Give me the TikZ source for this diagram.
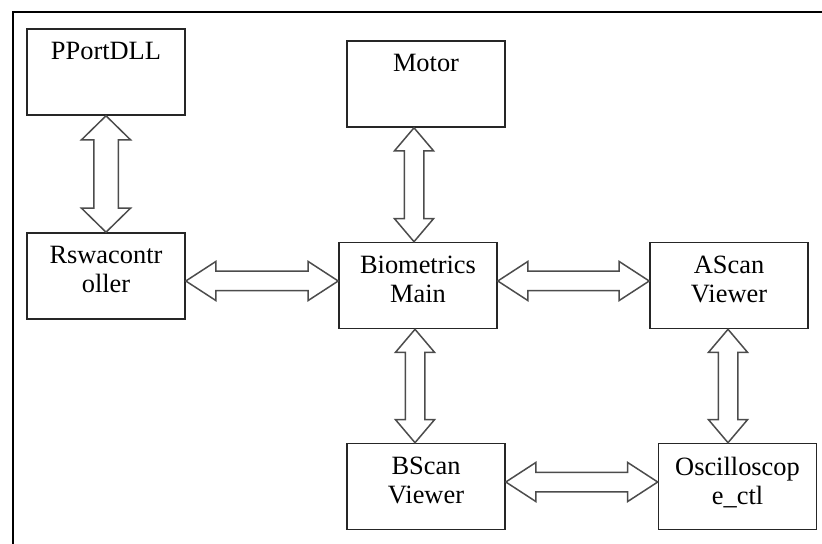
\documentclass[tikz,border=0pt]{standalone}
\usepackage{fontspec}
\setmainfont{Liberation Serif}
\usetikzlibrary{calc}
\tikzset{
  blok/.style={draw=black!85, line width=0.8pt, minimum width=79pt, minimum height=43pt, inner sep=0pt},
  blabel/.style={anchor=north, align=center, inner ysep=7pt},
  blokarr/.style={draw=black!70, line width=0.75pt, fill=white, line join=miter},
}
% double block arrow: #1 head length, #2 head half width, #3 from, #4 to
\newcommand{\dblarr}[4]{%
  \draw[blokarr] (#3)
    -- ($(#3)!#1!(#4)!#2!90:(#4)$)
    -- ($(#3)!#1!(#4)!0.5*#2!90:(#4)$)
    -- ($(#4)!#1!(#3)!0.5*#2!-90:(#3)$)
    -- ($(#4)!#1!(#3)!#2!-90:(#3)$)
    -- (#4)
    -- ($(#4)!#1!(#3)!#2!90:(#3)$)
    -- ($(#4)!#1!(#3)!0.5*#2!90:(#3)$)
    -- ($(#3)!#1!(#4)!0.5*#2!-90:(#4)$)
    -- ($(#3)!#1!(#4)!#2!-90:(#4)$)
    -- cycle;}
\begin{document}
\begin{tikzpicture}[x=0.5pt, y=-0.5pt, font=\fontsize{13.2}{14.5}\selectfont]
\useasboundingbox (0,0) rectangle (822,544);
% cadre
\draw[line width=1.3pt] (13,560) |- (840,12);
% blocs
\node[blok, label={[blabel]north:PPortDLL}] (pport) at (106,72) {};
\node[blok, label={[blabel]north:Rswacontr\\oller}] (rswa) at (106,276) {};
\node[blok, label={[blabel]north:Motor}] (motor) at (426,84) {};
\node[blok, label={[blabel]north:Biometrics\\Main}] (bio) at (418,285.5) {};
\node[blok, label={[blabel]north:AScan\\Viewer}] (ascan) at (729,285.5) {};
\node[blok, label={[blabel]north:BScan\\Viewer}] (bscan) at (426,486.5) {};
\node[blok, label={[blabel]north:Oscilloscop\\e\_ctl}] (osc) at (737.5,486.5) {};
% fleches
\dblarr{12pt}{12.25pt}{pport.south}{rswa.north}
\dblarr{11.5pt}{9.75pt}{[xshift=-6pt]motor.south}{[xshift=-2pt]bio.north}
\dblarr{11.5pt}{9.75pt}{[xshift=-1.5pt]bio.south}{[xshift=-5.5pt]bscan.north}
\dblarr{11.5pt}{9.75pt}{[xshift=-0.5pt]ascan.south}{[xshift=-4.75pt]osc.north}
\dblarr{15pt}{9.75pt}{[yshift=-2.5pt]rswa.east}{[yshift=2.25pt]bio.west}
\dblarr{15pt}{9.75pt}{[yshift=2.25pt]bio.east}{[yshift=2.25pt]ascan.west}
\dblarr{15pt}{9.75pt}{[yshift=2.25pt]bscan.east}{[yshift=2.25pt]osc.west}
\end{tikzpicture}
\end{document}
